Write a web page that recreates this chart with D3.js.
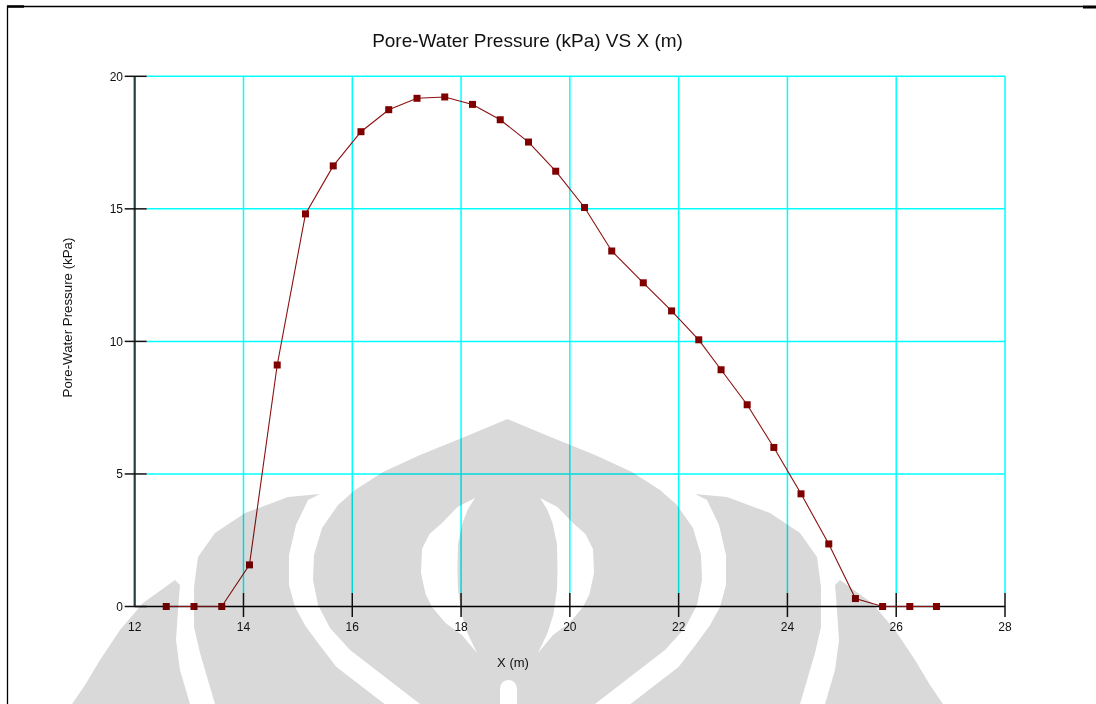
<!DOCTYPE html>
<html>
<head>
<meta charset="utf-8">
<script src="https://cdn.jsdelivr.net/npm/d3@7"></script>
<style>
  html, body { margin: 0; padding: 0; background: #ffffff; }
  svg { display: block; font-family: "Liberation Sans", Arial, sans-serif; }
</style>
</head>
<body>
<svg id="chart" width="1096" height="704"></svg>
<script>
// Pore-water pressure along the section
const xPositions = [12.58, 13.09, 13.60, 14.11, 14.62, 15.14, 15.65, 16.16, 16.67, 17.19,
                    17.70, 18.21, 18.72, 19.24, 19.74, 20.27, 20.77, 21.35, 21.87, 22.37,
                    22.78, 23.26, 23.75, 24.25, 24.76, 25.25, 25.75, 26.25, 26.74];
const porePressure = [0, 0, 0, 1.57, 9.11, 14.81, 16.62, 17.91, 18.74, 19.17,
                      19.22, 18.94, 18.36, 17.52, 16.42, 15.05, 13.41, 12.21, 11.15, 10.06,
                      8.93, 7.61, 6.00, 4.25, 2.36, 0.30, 0, 0, 0];
const xTickValues = [12, 14, 16, 18, 20, 22, 24, 26, 28];
const yTickValues = [0, 5, 10, 15, 20];
const chartTitle = "Pore-Water Pressure (kPa) VS X (m)";
const xAxisTitle = "X (m)";
const yAxisTitle = "Pore-Water Pressure (kPa)";

const svg = d3.select("#chart");
const x = d3.scaleLinear().domain([12, 28]).range([134.7, 1005]);
const y = d3.scaleLinear().domain([0, 20]).range([606.5, 76.3]);

// Page frame (top and left rules)
svg.append("path").attr("d", "M7.5,704 V6.5 H1083")
  .attr("fill", "none").attr("stroke", "#000").attr("stroke-width", 1.3);
svg.append("line").attr("x1", 7).attr("x2", 24).attr("y1", 6.5).attr("y2", 6.5)
  .attr("stroke", "#000").attr("stroke-width", 2.5);
svg.append("line").attr("x1", 1083).attr("x2", 1096).attr("y1", 7).attr("y2", 7)
  .attr("stroke", "#000").attr("stroke-width", 3);

// Title
svg.append("text").attr("x", 527.5).attr("y", 47).attr("text-anchor", "middle")
  .attr("font-size", 19).attr("fill", "#111").text(chartTitle);

// Grid
const grid = svg.append("g");
grid.selectAll("line.h").data(yTickValues.filter(v => v > 0)).join("line")
  .attr("class", "h")
  .attr("x1", x(12) + 12).attr("x2", x(28))
  .attr("y1", d => y(d)).attr("y2", d => y(d))
  .attr("stroke", "#00ffff").attr("stroke-width", 1.5);
grid.selectAll("line.v").data(xTickValues.filter(v => v > 12)).join("line")
  .attr("class", "v")
  .attr("x1", d => x(d)).attr("x2", d => x(d))
  .attr("y1", y(20)).attr("y2", y(0) - 13.5)
  .attr("stroke", "#00ffff").attr("stroke-width", 1.5);

// Axes
svg.append("line").attr("x1", x(12)).attr("x2", x(28)).attr("y1", y(0)).attr("y2", y(0))
  .attr("stroke", "#000").attr("stroke-width", 1.5);
svg.append("line").attr("x1", x(12)).attr("x2", x(12)).attr("y1", y(20)).attr("y2", y(0))
  .attr("stroke", "#243f3f").attr("stroke-width", 2.2);

svg.selectAll("line.xt").data(xTickValues.filter(v => v > 12)).join("line")
  .attr("class", "xt")
  .attr("x1", d => x(d)).attr("x2", d => x(d))
  .attr("y1", y(0) - 13.5).attr("y2", y(0) + 10.5)
  .attr("stroke", "#111").attr("stroke-width", 1.5);
svg.selectAll("line.yt").data(yTickValues).join("line")
  .attr("class", "yt")
  .attr("x1", x(12) - 10).attr("x2", x(12) + 12)
  .attr("y1", d => y(d)).attr("y2", d => y(d))
  .attr("stroke", "#111").attr("stroke-width", 1.5);

svg.selectAll("text.xl").data(xTickValues).join("text")
  .attr("class", "xl")
  .attr("x", d => x(d)).attr("y", 630.5).attr("text-anchor", "middle")
  .attr("font-size", 12).attr("fill", "#111").text(d => d);
svg.selectAll("text.yl").data(yTickValues).join("text")
  .attr("class", "yl")
  .attr("x", 123).attr("y", d => y(d) + 4.5).attr("text-anchor", "end")
  .attr("font-size", 12).attr("fill", "#111").text(d => d);

svg.append("text").attr("x", 513).attr("y", 666.5).attr("text-anchor", "middle")
  .attr("font-size", 13).attr("fill", "#111").text(xAxisTitle);
svg.append("text").attr("transform", "translate(72,317.5) rotate(-90)")
  .attr("text-anchor", "middle").attr("font-size", 13.3).attr("fill", "#111").text(yAxisTitle);

// Series
const pts = xPositions.map((v, i) => [v, porePressure[i]]);
svg.append("path").datum(pts)
  .attr("d", d3.line().x(d => x(d[0])).y(d => y(d[1])))
  .attr("fill", "none").attr("stroke", "#8b1010").attr("stroke-width", 1.1);
svg.selectAll("rect.m").data(pts).join("rect")
  .attr("class", "m")
  .attr("x", d => x(d[0]) - 3.5).attr("y", d => y(d[1]) - 3.5)
  .attr("width", 7).attr("height", 7).attr("fill", "#800000");

// Background emblem, laid over the page with multiply blending
const mirror = pts2 => pts2.map(p => [-p[0], p[1]]);
const domeHalf = [[0,0],[45.5,19],[87.5,36],[124.5,53],[152.5,71],[169.5,86],[185.5,109],
  [193.5,136],[194.5,161],[189.5,186],[177.5,209],[157.5,231],[122.5,258],[87.5,285],[70,300]];
const domeOutline = domeHalf.concat(mirror(domeHalf).reverse().slice(1, -1));
const innerCut = [[32.5,79],[50,88],[65.5,104],[78,115],[85.5,130],[86.5,154],[82,175],
  [75.5,188],[62,204],[45.5,216],[30.5,234],[40,214],[46,195],[49.5,170],[50,150],
  [49.5,125],[45,104],[39.5,90]];
const crescent = [[187.5,75],[219.5,78],[262.5,94],[292.5,114],[309.5,138],[313.5,168],
  [313.5,208],[307.5,234],[297.5,268],[292.5,285],[287.5,302],[100,302],[110,295],
  [136,275],[171,248],[188,226],[202,207],[212.5,188],[218.5,166],[218.5,136],
  [211.5,106],[199.5,81]];
const wing = [[332.5,161],[364.5,184],[387.5,211],[407.5,241],[422.5,266],[435.5,285],
  [445.5,302],[312.5,302],[317.5,285],[327.5,251],[331.5,221],[329.5,191],[327.5,166]];

const emblem = svg.append("g")
  .attr("transform", "translate(507.5,419)")
  .style("mix-blend-mode", "multiply");
const lin = d3.line().curve(d3.curveLinearClosed);
const gray = "#d9d9d9";
emblem.append("path").attr("d", lin(domeOutline)).attr("fill", gray);
[crescent, wing].forEach(s => {
  emblem.append("path").attr("d", lin(s)).attr("fill", gray);
  emblem.append("path").attr("d", lin(mirror(s))).attr("fill", gray);
});
emblem.append("path").attr("d", lin(innerCut)).attr("fill", "#fff");
emblem.append("path").attr("d", lin(mirror(innerCut))).attr("fill", "#fff");
emblem.append("rect").attr("x", -7.5).attr("y", 261).attr("width", 17).attr("height", 60)
  .attr("rx", 8.5).attr("fill", "#fff");
</script>
</body>
</html>
